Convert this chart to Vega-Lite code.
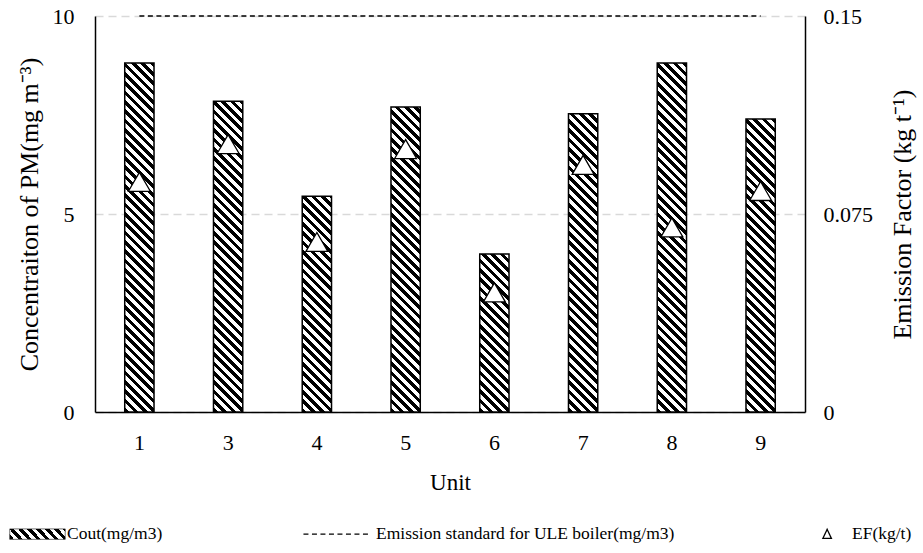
{
  "$schema": "https://vega.github.io/schema/vega-lite/v6.json",
  "width": 710,
  "height": 396,
  "autosize": {"type": "none"},
  "padding": {"left": 95, "top": 16, "right": 118, "bottom": 141},
  "params": [
    {"name": "hatch", "value": [
      {"offset":0,"color":"#000"},{"offset":0.01,"color":"#000"},{"offset":0.01,"color":"#fff"},{"offset":0.02,"color":"#fff"},
      {"offset":0.02,"color":"#000"},{"offset":0.03,"color":"#000"},{"offset":0.03,"color":"#fff"},{"offset":0.04,"color":"#fff"},
      {"offset":0.04,"color":"#000"},{"offset":0.05,"color":"#000"},{"offset":0.05,"color":"#fff"},{"offset":0.06,"color":"#fff"},
      {"offset":0.06,"color":"#000"},{"offset":0.07,"color":"#000"},{"offset":0.07,"color":"#fff"},{"offset":0.08,"color":"#fff"},
      {"offset":0.08,"color":"#000"},{"offset":0.09,"color":"#000"},{"offset":0.09,"color":"#fff"},{"offset":0.10,"color":"#fff"},
      {"offset":0.10,"color":"#000"},{"offset":0.11,"color":"#000"},{"offset":0.11,"color":"#fff"},{"offset":0.12,"color":"#fff"},
      {"offset":0.12,"color":"#000"},{"offset":0.13,"color":"#000"},{"offset":0.13,"color":"#fff"},{"offset":0.14,"color":"#fff"},
      {"offset":0.14,"color":"#000"},{"offset":0.15,"color":"#000"},{"offset":0.15,"color":"#fff"},{"offset":0.16,"color":"#fff"},
      {"offset":0.16,"color":"#000"},{"offset":0.17,"color":"#000"},{"offset":0.17,"color":"#fff"},{"offset":0.18,"color":"#fff"},
      {"offset":0.18,"color":"#000"},{"offset":0.19,"color":"#000"},{"offset":0.19,"color":"#fff"},{"offset":0.20,"color":"#fff"},
      {"offset":0.20,"color":"#000"},{"offset":0.21,"color":"#000"},{"offset":0.21,"color":"#fff"},{"offset":0.22,"color":"#fff"},
      {"offset":0.22,"color":"#000"},{"offset":0.23,"color":"#000"},{"offset":0.23,"color":"#fff"},{"offset":0.24,"color":"#fff"},
      {"offset":0.24,"color":"#000"},{"offset":0.25,"color":"#000"},{"offset":0.25,"color":"#fff"},{"offset":0.26,"color":"#fff"},
      {"offset":0.26,"color":"#000"},{"offset":0.27,"color":"#000"},{"offset":0.27,"color":"#fff"},{"offset":0.28,"color":"#fff"},
      {"offset":0.28,"color":"#000"},{"offset":0.29,"color":"#000"},{"offset":0.29,"color":"#fff"},{"offset":0.30,"color":"#fff"},
      {"offset":0.30,"color":"#000"},{"offset":0.31,"color":"#000"},{"offset":0.31,"color":"#fff"},{"offset":0.32,"color":"#fff"},
      {"offset":0.32,"color":"#000"},{"offset":0.33,"color":"#000"},{"offset":0.33,"color":"#fff"},{"offset":0.34,"color":"#fff"},
      {"offset":0.34,"color":"#000"},{"offset":0.35,"color":"#000"},{"offset":0.35,"color":"#fff"},{"offset":0.36,"color":"#fff"},
      {"offset":0.36,"color":"#000"},{"offset":0.37,"color":"#000"},{"offset":0.37,"color":"#fff"},{"offset":0.38,"color":"#fff"},
      {"offset":0.38,"color":"#000"},{"offset":0.39,"color":"#000"},{"offset":0.39,"color":"#fff"},{"offset":0.40,"color":"#fff"},
      {"offset":0.40,"color":"#000"},{"offset":0.41,"color":"#000"},{"offset":0.41,"color":"#fff"},{"offset":0.42,"color":"#fff"},
      {"offset":0.42,"color":"#000"},{"offset":0.43,"color":"#000"},{"offset":0.43,"color":"#fff"},{"offset":0.44,"color":"#fff"},
      {"offset":0.44,"color":"#000"},{"offset":0.45,"color":"#000"},{"offset":0.45,"color":"#fff"},{"offset":0.46,"color":"#fff"},
      {"offset":0.46,"color":"#000"},{"offset":0.47,"color":"#000"},{"offset":0.47,"color":"#fff"},{"offset":0.48,"color":"#fff"},
      {"offset":0.48,"color":"#000"},{"offset":0.49,"color":"#000"},{"offset":0.49,"color":"#fff"},{"offset":0.50,"color":"#fff"},
      {"offset":0.50,"color":"#000"},{"offset":0.51,"color":"#000"},{"offset":0.51,"color":"#fff"},{"offset":0.52,"color":"#fff"},
      {"offset":0.52,"color":"#000"},{"offset":0.53,"color":"#000"},{"offset":0.53,"color":"#fff"},{"offset":0.54,"color":"#fff"},
      {"offset":0.54,"color":"#000"},{"offset":0.55,"color":"#000"},{"offset":0.55,"color":"#fff"},{"offset":0.56,"color":"#fff"},
      {"offset":0.56,"color":"#000"},{"offset":0.57,"color":"#000"},{"offset":0.57,"color":"#fff"},{"offset":0.58,"color":"#fff"},
      {"offset":0.58,"color":"#000"},{"offset":0.59,"color":"#000"},{"offset":0.59,"color":"#fff"},{"offset":0.60,"color":"#fff"},
      {"offset":0.60,"color":"#000"},{"offset":0.61,"color":"#000"},{"offset":0.61,"color":"#fff"},{"offset":0.62,"color":"#fff"},
      {"offset":0.62,"color":"#000"},{"offset":0.63,"color":"#000"},{"offset":0.63,"color":"#fff"},{"offset":0.64,"color":"#fff"},
      {"offset":0.64,"color":"#000"},{"offset":0.65,"color":"#000"},{"offset":0.65,"color":"#fff"},{"offset":0.66,"color":"#fff"},
      {"offset":0.66,"color":"#000"},{"offset":0.67,"color":"#000"},{"offset":0.67,"color":"#fff"},{"offset":0.68,"color":"#fff"},
      {"offset":0.68,"color":"#000"},{"offset":0.69,"color":"#000"},{"offset":0.69,"color":"#fff"},{"offset":0.70,"color":"#fff"},
      {"offset":0.70,"color":"#000"},{"offset":0.71,"color":"#000"},{"offset":0.71,"color":"#fff"},{"offset":0.72,"color":"#fff"},
      {"offset":0.72,"color":"#000"},{"offset":0.73,"color":"#000"},{"offset":0.73,"color":"#fff"},{"offset":0.74,"color":"#fff"},
      {"offset":0.74,"color":"#000"},{"offset":0.75,"color":"#000"},{"offset":0.75,"color":"#fff"},{"offset":0.76,"color":"#fff"},
      {"offset":0.76,"color":"#000"},{"offset":0.77,"color":"#000"},{"offset":0.77,"color":"#fff"},{"offset":0.78,"color":"#fff"},
      {"offset":0.78,"color":"#000"},{"offset":0.79,"color":"#000"},{"offset":0.79,"color":"#fff"},{"offset":0.80,"color":"#fff"},
      {"offset":0.80,"color":"#000"},{"offset":0.81,"color":"#000"},{"offset":0.81,"color":"#fff"},{"offset":0.82,"color":"#fff"},
      {"offset":0.82,"color":"#000"},{"offset":0.83,"color":"#000"},{"offset":0.83,"color":"#fff"},{"offset":0.84,"color":"#fff"},
      {"offset":0.84,"color":"#000"},{"offset":0.85,"color":"#000"},{"offset":0.85,"color":"#fff"},{"offset":0.86,"color":"#fff"},
      {"offset":0.86,"color":"#000"},{"offset":0.87,"color":"#000"},{"offset":0.87,"color":"#fff"},{"offset":0.88,"color":"#fff"},
      {"offset":0.88,"color":"#000"},{"offset":0.89,"color":"#000"},{"offset":0.89,"color":"#fff"},{"offset":0.90,"color":"#fff"},
      {"offset":0.90,"color":"#000"},{"offset":0.91,"color":"#000"},{"offset":0.91,"color":"#fff"},{"offset":0.92,"color":"#fff"},
      {"offset":0.92,"color":"#000"},{"offset":0.93,"color":"#000"},{"offset":0.93,"color":"#fff"},{"offset":0.94,"color":"#fff"},
      {"offset":0.94,"color":"#000"},{"offset":0.95,"color":"#000"},{"offset":0.95,"color":"#fff"},{"offset":0.96,"color":"#fff"},
      {"offset":0.96,"color":"#000"},{"offset":0.97,"color":"#000"},{"offset":0.97,"color":"#fff"},{"offset":0.98,"color":"#fff"},
      {"offset":0.98,"color":"#000"},{"offset":0.99,"color":"#000"},{"offset":0.99,"color":"#fff"},{"offset":1,"color":"#fff"}
    ]}
  ],
  "data": {"values": [
    {"Unit": "1", "Cout": 8.81, "EF": 0.0872, "Standard": 10},
    {"Unit": "3", "Cout": 7.85, "EF": 0.1015, "Standard": 10},
    {"Unit": "4", "Cout": 5.45, "EF": 0.0644, "Standard": 10},
    {"Unit": "5", "Cout": 7.70, "EF": 0.0996, "Standard": 10},
    {"Unit": "6", "Cout": 3.99, "EF": 0.0453, "Standard": 10},
    {"Unit": "7", "Cout": 7.53, "EF": 0.0936, "Standard": 10},
    {"Unit": "8", "Cout": 8.81, "EF": 0.0699, "Standard": 10},
    {"Unit": "9", "Cout": 7.40, "EF": 0.0837, "Standard": 10}
  ]},
  "encoding": {
    "x": {
      "field": "Unit", "type": "nominal", "sort": null,
      "scale": {"paddingInner": 0.67, "paddingOuter": 0.335},
      "axis": {"title": "Unit", "labelAngle": 0, "ticks": false, "labelPadding": 20, "titlePadding": 18, "titleFontSize": 23}
    }
  },
  "layer": [
    {
      "layer": [
        {
          "mark": {
            "type": "bar", "stroke": "black", "strokeWidth": 1.5,
            "fill": {"expr": "{gradient:'linear',x1:0,y1:1,x2:466.7*bandwidth('x')/(bandwidth('x')*bandwidth('x')+pow(datum.Cout*height/10,2)),y2:1-466.7*(datum.Cout*height/10)/(bandwidth('x')*bandwidth('x')+pow(datum.Cout*height/10,2)),stops:hatch}"}
          },
          "encoding": {
            "y": {
              "field": "Cout", "type": "quantitative",
              "scale": {"domain": [0, 10]},
              "axis": {
                "title": "Concentraiton of PM(mg m⁻³)", "orient": "left",
                "values": [0, 5, 10], "grid": true, "gridColor": "#d9d9d9", "gridDash": [8, 5], "gridWidth": 1.5,
                "ticks": false, "labelPadding": 21, "titlePadding": 10
              }
            }
          }
        },
        {
          "mark": {"type": "line", "stroke": "black", "strokeWidth": 1.3},
          "encoding": {
            "y": {
              "field": "Standard", "type": "quantitative", "scale": {"domain": [0, 10]},
              "axis": {
                "title": "Concentraiton of PM(mg m⁻³)", "orient": "left",
                "values": [0, 5, 10], "grid": true, "gridColor": "#d9d9d9", "gridDash": [8, 5], "gridWidth": 1.5,
                "ticks": false, "labelPadding": 21, "titlePadding": 10
              }
            },
            "strokeDash": {
              "datum": "Emission standard for ULE boiler(mg/m3)", "type": "nominal",
              "scale": {"domain": ["Cout(mg/m3)", "Emission standard for ULE boiler(mg/m3)", "EF(kg/t)"], "range": [[1, 0], [5, 3.5], [1, 0]]},
              "legend": {
                "orient": "none", "legendX": -67.5, "legendY": 509, "direction": "horizontal", "columns": 3,
                "title": null, "symbolSize": 361, "labelFontSize": 17.5, "labelOffset": 22, "columnPadding": 138,
                "padding": 0, "labelLimit": 0, "labelColor": "black",
                "encoding": {
                  "symbols": {
                    "shape": {"value": {"expr": "datum.value == 'Cout(mg/m3)' ? 'M-2.79,-0.55H3.05V0.55H-2.79Z' : datum.value == 'EF(kg/t)' ? 'M0.62,-0.5L1.07,0.45L0.17,0.45Z' : 'M-4.4,0H2.75'"}},
                    "fill": {"value": {"expr": "datum.value == 'Cout(mg/m3)' ? {gradient:'linear',x1:0,y1:1,x2:7.81,y2:-0.347,stops:hatch} : datum.value == 'EF(kg/t)' ? 'white' : 'transparent'"}},
                    "stroke": {"value": "black"},
                    "strokeWidth": {"value": {"expr": "datum.value == 'Cout(mg/m3)' ? 0.6 : 1.3"}},
                    "opacity": {"value": 1}
                  }
                }
              }
            }
          }
        }
      ]
    },
    {
      "mark": {"type": "point", "shape": "triangle-up", "filled": false, "fill": "white", "stroke": "black", "strokeWidth": 1.3, "size": 480, "opacity": 1},
      "encoding": {
        "y": {
          "field": "EF", "type": "quantitative",
          "scale": {"domain": [0, 0.15]},
          "axis": {
            "title": "Emission Factor (kg t⁻¹)", "orient": "right",
            "values": [0, 0.075, 0.15], "format": ".3~f", "grid": false,
            "ticks": false, "labelPadding": 18, "titlePadding": 17, "titleAngle": 270, "titleBaseline": "top"
          }
        }
      }
    }
  ],
  "resolve": {"scale": {"y": "independent"}},
  "config": {
    "font": "Liberation Serif",
    "view": {"stroke": null},
    "axis": {
      "domainColor": "black", "domainWidth": 1.5, "tickColor": "black", "tickWidth": 1.5,
      "labelFont": "Liberation Serif", "labelFontSize": 22, "labelColor": "black",
      "titleFont": "Liberation Serif", "titleFontSize": 26, "titleFontWeight": "normal", "titleColor": "black"
    },
    "legend": {"labelFont": "Liberation Serif"}
  }
}
